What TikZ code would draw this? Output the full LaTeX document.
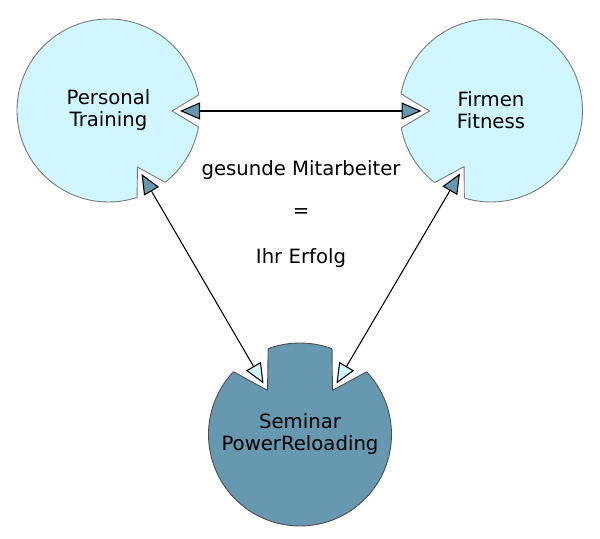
\documentclass[tikz,border=0pt]{standalone}
\usepackage{fontspec}
\setmainfont{DejaVu Sans}
\usetikzlibrary{positioning}
\usetikzlibrary{arrows.meta}
\usetikzlibrary{calc}

\definecolor{light}{RGB}{208,247,255}
\definecolor{dark}{RGB}{102,152,176}
\definecolor{rimgray}{RGB}{120,120,120}

\begin{document}
\begin{tikzpicture}[
    ring/.style={circle, minimum size=3.66cm, inner sep=0pt, align=center, draw=rimgray, line width=0.5pt, font=\fontsize{11.2}{12.6}\selectfont},
    rim/.style={draw=rimgray, line width=0.5pt},
    link/.style={line width=0.6pt, draw=black}
]
    \useasboundingbox (0,0) rectangle (12,10.78);

    % Circles
    \node[ring, fill=light] (PT) at (2.17, 8.57) {Personal\\Training};
    \node[ring, fill=light] (FF) at (9.82, 8.57) {Firmen\\Fitness};
    \node[ring, fill=dark, draw=black!70] (SP) at (6.0, 2.09) {Seminar\\PowerReloading};

    % Arrow tips
    \coordinate (A1) at (3.60, 8.56);
    \coordinate (A2) at (8.43, 8.56);
    \coordinate (B1) at (2.83, 7.30);
    \coordinate (B2) at (5.27, 3.11);
    \coordinate (C1) at (9.20, 7.31);
    \coordinate (C2) at (6.73, 3.11);

    % Notch in Personal Training (from Firmen Fitness)
    \coordinate (N1) at ($(A1)!-0.16cm!(A2)$);
    \fill[white] (N1) -- ($(N1)!1.1cm!31:(A2)$) -- ($(N1)!1.1cm!-31:(A2)$) -- cycle;
    \begin{scope}
        \clip (PT.center) circle (1.83cm);
        \draw[rim] ($(N1)!1.1cm!31:(A2)$) -- (N1) -- ($(N1)!1.1cm!-31:(A2)$);
    \end{scope}

    % Notch in Firmen Fitness (from Personal Training)
    \coordinate (N2) at ($(A2)!-0.16cm!(A1)$);
    \fill[white] (N2) -- ($(N2)!1.1cm!31:(A1)$) -- ($(N2)!1.1cm!-31:(A1)$) -- cycle;
    \begin{scope}
        \clip (FF.center) circle (1.83cm);
        \draw[rim] ($(N2)!1.1cm!31:(A1)$) -- (N2) -- ($(N2)!1.1cm!-31:(A1)$);
    \end{scope}

    % Notch in Personal Training (from Seminar)
    \coordinate (N3) at ($(B1)!-0.16cm!(B2)$);
    \fill[white] (N3) -- ($(N3)!1.1cm!31:(B2)$) -- ($(N3)!1.1cm!-31:(B2)$) -- cycle;
    \begin{scope}
        \clip (PT.center) circle (1.83cm);
        \draw[rim] ($(N3)!1.1cm!31:(B2)$) -- (N3) -- ($(N3)!1.1cm!-31:(B2)$);
    \end{scope}

    % Notch in Seminar (from Personal Training)
    \coordinate (N4) at ($(B2)!-0.16cm!(B1)$);
    \fill[white] (N4) -- ($(N4)!1.1cm!31:(B1)$) -- ($(N4)!1.1cm!-31:(B1)$) -- cycle;
    \begin{scope}
        \clip (SP.center) circle (1.83cm);
        \draw[draw=black!70, line width=0.5pt] ($(N4)!1.1cm!31:(B1)$) -- (N4) -- ($(N4)!1.1cm!-31:(B1)$);
    \end{scope}

    % Notch in Firmen Fitness (from Seminar)
    \coordinate (N5) at ($(C1)!-0.16cm!(C2)$);
    \fill[white] (N5) -- ($(N5)!1.1cm!31:(C2)$) -- ($(N5)!1.1cm!-31:(C2)$) -- cycle;
    \begin{scope}
        \clip (FF.center) circle (1.83cm);
        \draw[rim] ($(N5)!1.1cm!31:(C2)$) -- (N5) -- ($(N5)!1.1cm!-31:(C2)$);
    \end{scope}

    % Notch in Seminar (from Firmen Fitness)
    \coordinate (N6) at ($(C2)!-0.16cm!(C1)$);
    \fill[white] (N6) -- ($(N6)!1.1cm!31:(C1)$) -- ($(N6)!1.1cm!-31:(C1)$) -- cycle;
    \begin{scope}
        \clip (SP.center) circle (1.83cm);
        \draw[draw=black!70, line width=0.5pt] ($(N6)!1.1cm!31:(C1)$) -- (N6) -- ($(N6)!1.1cm!-31:(C1)$);
    \end{scope}

    % Connections
    \draw[link, {Triangle[length=0.4cm, width=0.34cm, fill=dark]}-{Triangle[length=0.4cm, width=0.34cm, fill=dark]}] (A1) -- (A2);
    \draw[link, {Triangle[length=0.4cm, width=0.34cm, fill=dark]}-{Triangle[length=0.4cm, width=0.34cm, fill=light]}] (B1) -- (B2);
    \draw[link, {Triangle[length=0.4cm, width=0.34cm, fill=dark]}-{Triangle[length=0.4cm, width=0.34cm, fill=light]}] (C1) -- (C2);

    % Centre text
    \node[font=\fontsize{11.2}{12.6}\selectfont] (G1) at (6.02, 7.38) {gesunde Mitarbeiter};
    \node[font=\fontsize{11.2}{12.6}\selectfont] (G2) at (6.02, 6.52) {=};
    \node[font=\fontsize{11.2}{12.6}\selectfont] (G3) at (6.02, 5.62) {Ihr Erfolg};
\end{tikzpicture}
\end{document}
